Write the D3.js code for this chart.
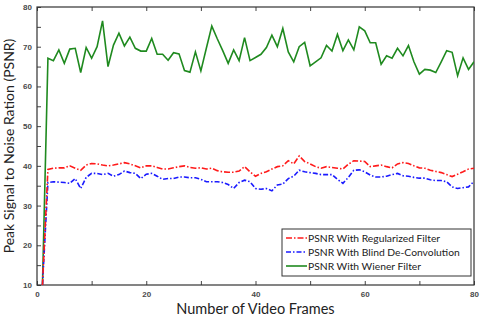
<!DOCTYPE html>
<html>
<head>
<meta charset="utf-8">
<script src="https://cdn.jsdelivr.net/npm/d3@7"></script>
<style>
  body { margin: 0; background: #fff; }
  svg { display: block; }
</style>
</head>
<body>
<div id="chart"></div>
<script>
// values, frames 1..80
var frames = d3.range(1, 81);

var wiener = [10, 67.1, 66.5, 69.2, 65.8, 69.4, 69.6, 63.5, 69.8, 67.1,
  70.0, 76.5, 65.0, 70.4, 73.4, 70.2, 72.4, 69.6, 68.9, 68.9,
  72.1, 68.1, 68.1, 66.6, 68.5, 68.2, 64.0, 63.6, 68.7, 63.9,
  69.6, 75.2, 72.0, 69.0, 65.8, 69.2, 66.5, 72.3, 66.5, 67.3,
  68.1, 69.8, 72.9, 70.0, 74.6, 68.7, 66.2, 70.0, 71.1, 65.2,
  66.2, 67.2, 70.3, 68.9, 73.1, 69.0, 71.7, 69.2, 75.0, 74.0,
  71.0, 71.0, 65.6, 67.7, 67.1, 69.6, 67.7, 70.3, 66.2, 63.1,
  64.3, 64.1, 63.5, 66.2, 69.0, 68.6, 62.7, 67.2, 64.3, 66.2];

var regularized = [10, 39.1, 39.4, 39.5, 39.5, 40.0, 39.4, 38.9, 40.2, 40.6,
  40.5, 40.2, 40.0, 40.2, 40.5, 40.8, 40.5, 40.0, 39.5, 40.0,
  40.0, 39.6, 39.2, 39.2, 39.5, 39.8, 40.0, 39.6, 39.4, 39.5,
  39.2, 39.4, 38.8, 38.5, 38.4, 38.4, 38.7, 39.8, 38.5, 37.4,
  38.1, 38.5, 39.2, 39.8, 40.0, 41.3, 40.5, 42.5, 41.1, 40.5,
  39.8, 39.4, 39.8, 39.6, 39.4, 39.2, 40.4, 41.3, 41.2, 41.1,
  39.8, 40.0, 40.2, 39.8, 39.5, 40.5, 40.8, 40.6, 40.0, 39.5,
  39.4, 38.9, 38.6, 38.3, 37.8, 37.3, 37.9, 38.5, 39.2, 39.4];

var blind = [10, 35.8, 36.0, 35.9, 35.8, 35.6, 36.8, 34.3, 37.1, 38.1,
  38.1, 37.8, 38.1, 37.4, 37.8, 38.7, 38.3, 38.1, 36.8, 37.9,
  38.1, 37.4, 36.6, 36.8, 36.8, 37.2, 37.2, 37.0, 37.0, 36.6,
  36.0, 36.0, 36.0, 35.8, 35.3, 34.3, 35.8, 36.4, 36.0, 34.3,
  34.1, 34.3, 33.7, 35.2, 35.4, 36.8, 37.4, 38.9, 38.5, 38.3,
  38.1, 37.8, 37.8, 37.8, 36.6, 35.6, 37.1, 38.9, 39.0, 38.5,
  37.7, 37.2, 37.2, 37.4, 37.8, 38.1, 37.5, 37.4, 37.1, 36.9,
  36.9, 36.5, 36.3, 36.3, 36.0, 34.7, 34.3, 34.5, 34.7, 36.1];

var seriesNames = ["PSNR With Regularized Filter", "PSNR With Blind  De-Convolution", "PSNR With Wiener Filter"];
var xTicks = [0, 20, 40, 60, 80];
var yTicks = [10, 20, 30, 40, 50, 60, 70, 80];

var W = 480, H = 318;
var margin = {top: 7, right: 6, bottom: 33, left: 37};
var w = W - margin.left - margin.right;
var h = H - margin.top - margin.bottom;

var svg = d3.select('#chart').append('svg')
  .attr('width', W).attr('height', H);

var g = svg.append('g')
  .attr('transform', 'translate(' + margin.left + ',' + margin.top + ')');

var x = d3.scaleLinear().domain([0, 80]).range([0, w]);
var y = d3.scaleLinear().domain([10, 80]).range([h, 0]);

g.append('clipPath').attr('id', 'clip')
  .append('rect').attr('width', w).attr('height', h);

// minor ticks (inward)
var tickCol = '#444';
g.append('g').attr('transform', 'translate(0,' + h + ')')
  .call(d3.axisBottom(x).tickValues(d3.range(0, 81, 10)).tickSize(-4).tickFormat(''))
  .call(function(a) { a.select('.domain').remove(); a.selectAll('line').attr('stroke', tickCol); });
g.append('g')
  .call(d3.axisTop(x).tickValues(d3.range(0, 81, 10)).tickSize(-4).tickFormat(''))
  .call(function(a) { a.select('.domain').remove(); a.selectAll('line').attr('stroke', tickCol); });
g.append('g')
  .call(d3.axisLeft(y).tickValues(d3.range(10, 81, 5)).tickSize(-4).tickFormat(''))
  .call(function(a) { a.select('.domain').remove(); a.selectAll('line').attr('stroke', tickCol); });

// tick labels
g.append('g').attr('transform', 'translate(0,' + h + ')')
  .call(d3.axisBottom(x).tickValues(xTicks).tickSize(0).tickPadding(6))
  .call(function(a) {
    a.select('.domain').remove();
    a.selectAll('text').attr('font-family', 'Liberation Sans, Arial, sans-serif')
      .attr('font-size', 8).attr('font-weight', 'bold').attr('fill', '#4a4a4a');
  });
g.append('g')
  .call(d3.axisLeft(y).tickValues(yTicks).tickSize(0).tickPadding(5))
  .call(function(a) {
    a.select('.domain').remove();
    a.selectAll('text').attr('font-family', 'Liberation Sans, Arial, sans-serif')
      .attr('font-size', 8).attr('font-weight', 'bold').attr('fill', '#4a4a4a');
  });

// frame
g.append('rect').attr('width', w).attr('height', h)
  .attr('fill', 'none').attr('stroke', '#333').attr('stroke-width', 1.2);

var series = [
  {name: seriesNames[0], values: regularized, color: '#ff1a1a', dash: '6,2,1.5,2'},
  {name: seriesNames[1], values: blind, color: '#1a1aff', dash: '5,2,1.5,2'},
  {name: seriesNames[2], values: wiener, color: '#1f8a1f', dash: null}
];

var line = d3.line()
  .x(function(d, i) { return x(frames[i]); })
  .y(function(d) { return y(d); });

var plot = g.append('g').attr('clip-path', 'url(#clip)');
// draw wiener first, then blind, then regularized
[2, 1, 0].forEach(function(k) {
  var s = series[k];
  plot.append('path')
    .datum(s.values)
    .attr('d', line)
    .attr('fill', 'none')
    .attr('stroke', s.color)
    .attr('stroke-width', 1.6)
    .attr('stroke-dasharray', s.dash);
});

// legend
var lg = g.append('g').attr('transform', 'translate(' + (282 - margin.left) + ',' + (229 - margin.top) + ')');
lg.append('rect').attr('width', 189).attr('height', 47)
  .attr('fill', '#fff').attr('stroke', '#333').attr('stroke-width', 1);
series.forEach(function(s, i) {
  var yy = 9 + i * 14;
  lg.append('line').attr('x1', 4).attr('x2', 25).attr('y1', yy).attr('y2', yy)
    .attr('stroke', s.color).attr('stroke-width', 1.6).attr('stroke-dasharray', s.dash);
  lg.append('text').attr('x', 26).attr('y', yy).attr('dy', '0.35em')
    .attr('font-family', 'Lato, sans-serif').attr('font-size', 10.3).attr('fill', '#222')
    .text(s.name);
});

// axis titles
svg.append('text')
  .attr('x', margin.left + w / 2).attr('y', 314)
  .attr('text-anchor', 'middle')
  .attr('font-family', 'Lato, sans-serif').attr('font-size', 14.5).attr('fill', '#222')
  .text('Number of Video Frames');
svg.append('text')
  .attr('transform', 'translate(14,' + (margin.top + h / 2) + ') rotate(-90)')
  .attr('text-anchor', 'middle')
  .attr('font-family', 'Lato, sans-serif').attr('font-size', 14).attr('fill', '#222')
  .text('Peak Signal to Noise Ration (PSNR)');
</script>
</body>
</html>
